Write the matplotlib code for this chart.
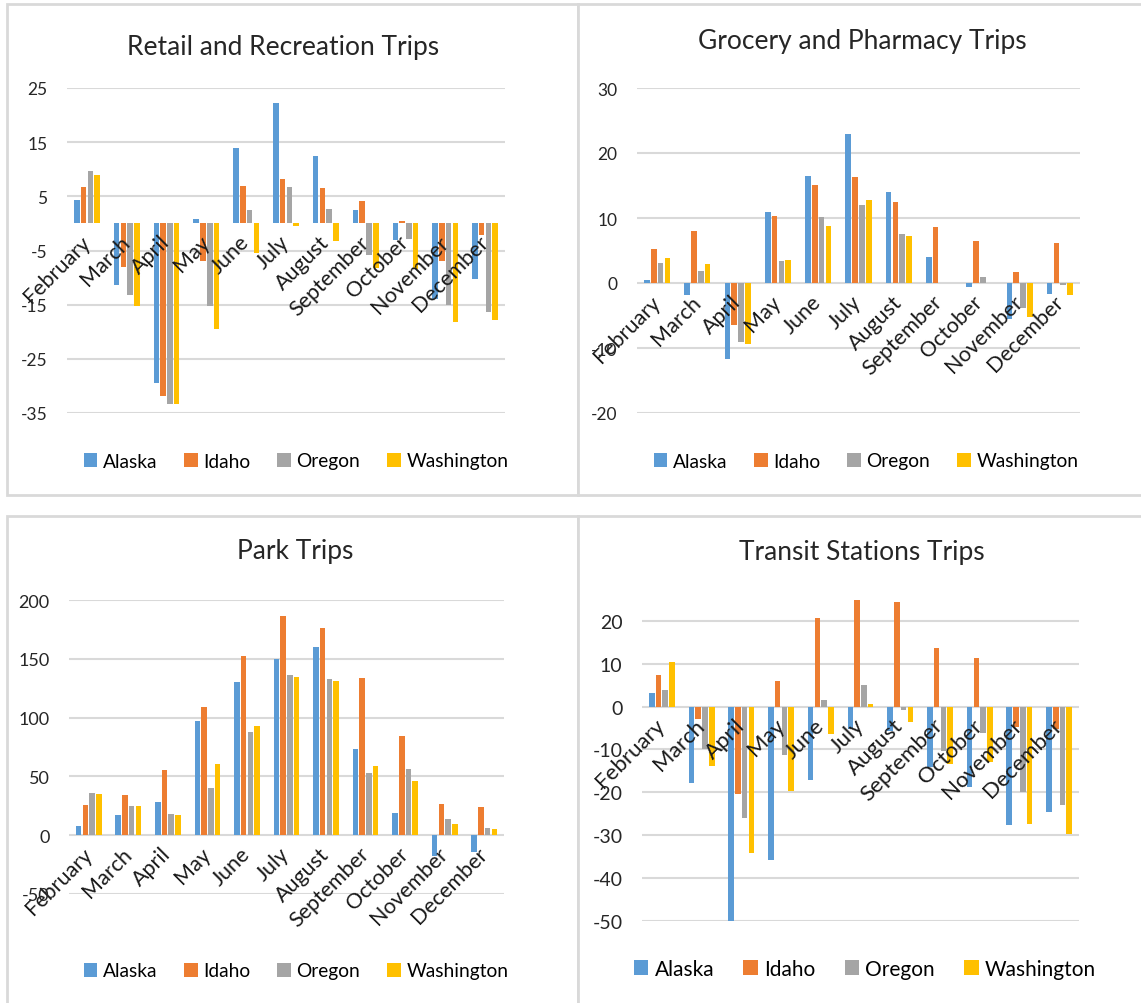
import numpy as np
import matplotlib
matplotlib.use('Agg')
import matplotlib.pyplot as plt
from matplotlib.patches import Rectangle

plt.rcParams['font.family'] = ['Lato', 'DejaVu Sans']

months = ['February', 'March', 'April', 'May', 'June', 'July', 'August',
          'September', 'October', 'November', 'December']
states = ['Alaska', 'Idaho', 'Oregon', 'Washington']
colors = ['#5B9BD5', '#ED7D31', '#A5A5A5', '#FFC000']

# Retail and Recreation
retail_alaska = [4.3, -11.4, -29.5, 0.9, 14.0, 22.2, 12.4, 2.5, -3.0, -14.0, -10.3]
retail_idaho = [6.8, -8.1, -31.8, -6.9, 6.9, 8.2, 6.6, 4.1, 0.5, -7.0, -2.2]
retail_oregon = [9.7, -13.3, -33.3, -15.2, 2.4, 6.8, 2.6, -5.9, -2.8, -15.1, -16.3]
retail_washington = [8.9, -15.2, -33.4, -19.4, -5.4, -0.5, -3.3, -8.3, -8.4, -18.2, -17.9]

# Grocery and Pharmacy
grocery_alaska = [0.5, -1.9, -11.7, 10.9, 16.5, 23.0, 14.0, 4.0, -0.6, -5.5, -1.7]
grocery_idaho = [5.2, 8.0, -6.4, 10.3, 15.1, 16.3, 12.5, 8.6, 6.5, 1.7, 6.1]
grocery_oregon = [3.1, 1.9, -9.0, 3.4, 10.2, 12.0, 7.6, 0.0, 0.9, -3.9, -0.3]
grocery_washington = [3.8, 3.0, -9.4, 3.6, 8.8, 12.7, 7.3, 0.0, 0.0, -5.3, -1.9]

# Parks
park_alaska = [7.9, 17, 28.6, 96.7, 130.4, 149.6, 160, 73.5, 19, -17.5, -14.7]
park_idaho = [26, 34, 55.4, 109, 152.8, 186.7, 176, 134, 84.3, 26.6, 23.8]
park_oregon = [36, 25, 18.4, 40.5, 87.7, 136.4, 132.4, 52.6, 56.3, 14.1, 5.9]
park_washington = [35, 24.6, 17, 60.5, 92.8, 134.4, 131.5, 58.8, 45.8, 9.6, 5.1]

# Transit Stations
transit_alaska = [3.1, -17.9, -50.3, -35.7, -17.1, -5.3, -5.6, -14.2, -18.8, -27.6, -24.7]
transit_idaho = [7.4, -2.8, -20.3, 6.0, 20.6, 24.9, 24.3, 13.6, 11.4, -4.7, -5.2]
transit_oregon = [3.8, -9.8, -26.0, -11.4, 1.6, 5.1, -0.7, -10.3, -6.1, -20.0, -22.9]
transit_washington = [10.3, -13.8, -34.1, -19.7, -6.5, 0.6, -3.7, -13.4, -13.0, -27.5, -29.7]

W, H = 1141, 1004
fig = plt.figure(figsize=(W / 100, H / 100), dpi=100)


def fx(px):
    return px / W


def fy(py):
    return 1 - py / H


def axes_px(x0, x1, y0, y1):
    return fig.add_axes([fx(x0), fy(y1), fx(x1) - fx(x0), fy(y0) - fy(y1)])


# panel frames
for (x0, y0, x1, y1) in [(7, 5, 578, 496), (578, 5, 1150, 496),
                         (7, 517, 578, 1012), (578, 517, 1150, 1012)]:
    fig.add_artist(Rectangle((fx(x0), fy(y1)), fx(x1) - fx(x0), fy(y0) - fy(y1),
                             transform=fig.transFigure, facecolor='white',
                             edgecolor='#D9D9D9', linewidth=2, zorder=0))

panels = [
    dict(title='Retail and Recreation Trips', data=[retail_alaska, retail_idaho, retail_oregon, retail_washington],
         box=(67, 505, 89, 414), ylim=(-35, 25), yticks=np.arange(-35, 26, 10),
         title_xy=(283, 48), leg_xy=(296, 462), fs=12.5, mfs=15.5, title_fs=19, leg_fs=13.8),
    dict(title='Grocery and Pharmacy Trips', data=[grocery_alaska, grocery_idaho, grocery_oregon, grocery_washington],
         box=(637, 1080, 89, 414), ylim=(-20, 30), yticks=np.arange(-20, 31, 10),
         title_xy=(862, 42), leg_xy=(866, 462), fs=12.5, mfs=15.5, title_fs=19, leg_fs=13.8),
    dict(title='Park Trips', data=[park_alaska, park_idaho, park_oregon, park_washington],
         box=(69, 504, 601, 895), ylim=(-50, 200), yticks=np.arange(-50, 201, 50),
         title_xy=(295, 552), leg_xy=(296, 972), fs=13, mfs=15.5, title_fs=19, leg_fs=13.8),
    dict(title='Transit Stations Trips', data=[transit_alaska, transit_idaho, transit_oregon, transit_washington],
         box=(642, 1079, 596, 922), ylim=(-50, 26), yticks=np.arange(-50, 21, 10),
         title_xy=(862, 553), leg_xy=(865, 970), fs=14, mfs=16, title_fs=19, leg_fs=15),
]

x = np.arange(len(months))
bw = 0.14
step = 0.17

for p in panels:
    x0, x1, y0, y1 = p['box']
    ax = axes_px(x0, x1, y0, y1)
    for t in p['yticks']:
        ax.axhline(t, color='#D9D9D9', linewidth=1.5, zorder=0)
    handles = []
    for i, (vals, c, name) in enumerate(zip(p['data'], colors, states)):
        h = ax.bar(x + (i - 1.5) * step, vals, width=bw, color=c, label=name, zorder=1)
        handles.append(h)
    ax.set_xlim(-0.5, len(months) - 0.5)
    ax.set_ylim(*p['ylim'])
    ax.set_yticks(p['yticks'])
    ax.tick_params(axis='y', length=0, pad=14, labelsize=p['fs'], labelcolor='#262626')
    ax.set_yticklabels([f'{v:g}' for v in p['yticks']])
    ax.spines['bottom'].set_position(('data', 0))
    for s in ['top', 'right', 'left', 'bottom']:
        ax.spines[s].set_visible(False)
    ax.set_xticks(x)
    ax.set_xticklabels(months, rotation=45, ha='right', va='center', rotation_mode='anchor')
    ax.tick_params(axis='x', length=0, pad=11, labelsize=p['mfs'], labelcolor='#1a1a1a')
    ax.patch.set_alpha(0)
    fig.text(fx(p['title_xy'][0]), fy(p['title_xy'][1]), p['title'], ha='center', va='center',
             fontsize=p['title_fs'], color='#262626')
    ax.legend(handles=handles, loc='center', ncol=4, frameon=False,
              bbox_to_anchor=(fx(p['leg_xy'][0]), fy(p['leg_xy'][1])), bbox_transform=fig.transFigure,
              fontsize=p['leg_fs'], handlelength=0.7, handleheight=0.7, handletextpad=0.3,
              columnspacing=1.4)

fig.savefig('out.png', dpi=100, facecolor='white')
